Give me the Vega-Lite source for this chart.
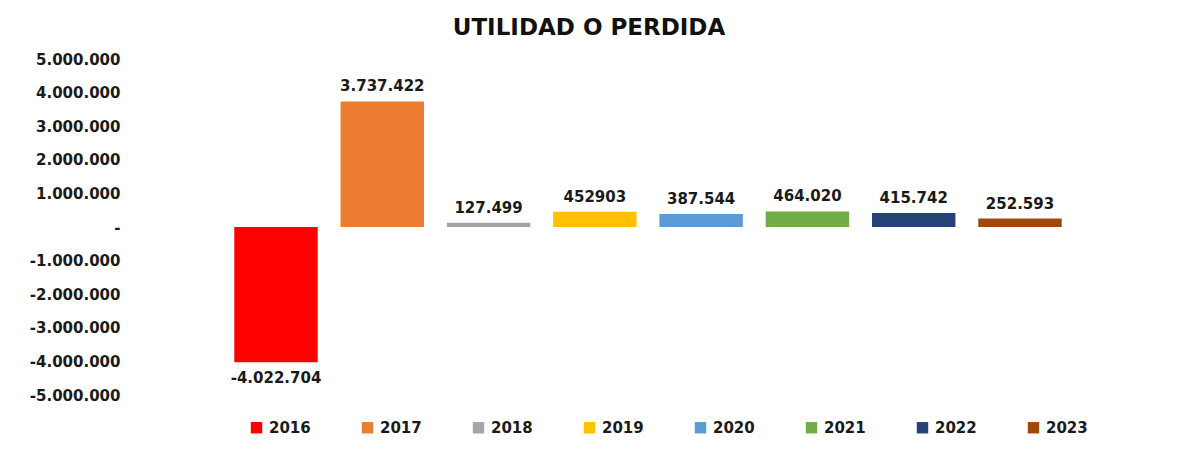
{
  "$schema": "https://vega.github.io/schema/vega-lite/v6.json",
  "autosize": {"type": "none"},
  "width": 1040,
  "height": 336,
  "padding": {"left": 128, "top": 59, "right": 10, "bottom": 55},
  "background": "white",
  "title": {"text": "UTILIDAD O PERDIDA", "font": "DejaVu Sans", "fontSize": 23, "fontWeight": "bold", "color": "#111111", "anchor": "middle", "dx": -59, "offset": 12},
  "data": {"values": [
    {"year": "2016", "value": -4022704, "label": "-4.022.704"},
    {"year": "2017", "value": 3737422, "label": "3.737.422"},
    {"year": "2018", "value": 127499, "label": "127.499"},
    {"year": "2019", "value": 452903, "label": "452903"},
    {"year": "2020", "value": 387544, "label": "387.544"},
    {"year": "2021", "value": 464020, "label": "464.020"},
    {"year": "2022", "value": 415742, "label": "415.742"},
    {"year": "2023", "value": 252593, "label": "252.593"}
  ]},
  "encoding": {
    "x": {"field": "year", "type": "nominal", "axis": null, "scale": {"paddingInner": 0.215, "paddingOuter": 1.05}},
    "y": {"field": "value", "type": "quantitative", "scale": {"domain": [-5000000, 5000000], "nice": false, "zero": true},
      "axis": {"title": null, "values": [-5000000, -4000000, -3000000, -2000000, -1000000, 0, 1000000, 2000000, 3000000, 4000000, 5000000], "format": ",d", "labelExpr": "datum.value == 0 ? '-' : datum.label", "labelOverlap": false, "labelBound": false, "labelFlush": false, "ticks": false, "domain": false, "grid": false, "labelPadding": 8, "labelFont": "DejaVu Sans", "labelFontSize": 15, "labelFontWeight": "bold", "labelColor": "#1a1a1a"}}
  },
  "layer": [
    {"mark": {"type": "bar"},
     "encoding": {
       "color": {"field": "year", "type": "nominal",
         "scale": {"domain": ["2016","2017","2018","2019","2020","2021","2022","2023"], "range": ["#FF0000","#ED7D31","#A5A5A5","#FFC000","#5B9BD5","#70AD47","#264478","#9E480E"]},
         "legend": {"title": null, "orient": "none", "legendX": 121, "legendY": 361, "direction": "horizontal", "columns": 8, "symbolType": "square", "symbolSize": 130, "symbolStrokeWidth": 0, "labelFont": "DejaVu Sans", "labelFontSize": 15, "labelFontWeight": "bold", "labelColor": "#1a1a1a", "columnPadding": 49, "labelOffset": 5}}
     }},
    {"transform": [{"filter": "datum.value >= 0"}],
     "mark": {"type": "text", "baseline": "bottom", "dy": -7, "font": "DejaVu Sans", "fontSize": 15, "fontWeight": "bold", "color": "#1a1a1a"},
     "encoding": {"text": {"field": "label"}}},
    {"transform": [{"filter": "datum.value < 0"}],
     "mark": {"type": "text", "baseline": "top", "dy": 9, "font": "DejaVu Sans", "fontSize": 15, "fontWeight": "bold", "color": "#1a1a1a"},
     "encoding": {"text": {"field": "label"}}}
  ],
  "config": {
    "view": {"stroke": null},
    "locale": {"number": {"decimal": ",", "thousands": ".", "grouping": [3], "currency": ["$", ""], "minus": "-"}}
  }
}
